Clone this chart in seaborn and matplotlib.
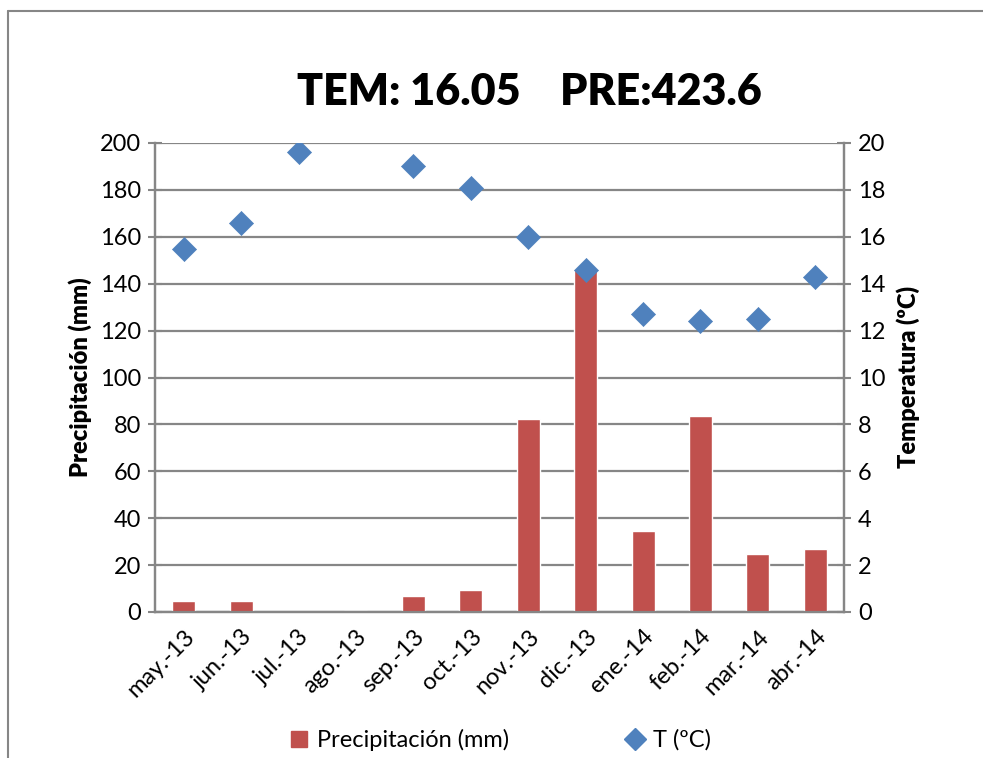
import numpy as np
import pandas as pd
import matplotlib
matplotlib.use("Agg")
import matplotlib.pyplot as plt
from matplotlib.lines import Line2D
from matplotlib.patches import Patch
import seaborn as sns

months = ["may.-13", "jun.-13", "jul.-13", "ago.-13", "sep.-13", "oct.-13",
          "nov.-13", "dic.-13", "ene.-14", "feb.-14", "mar.-14", "abr.-14"]
precip_mm = [4.5, 4.5, 0.0, 0.6, 6.8, 9.4, 82.2, 146.0, 34.5, 83.6, 24.8, 26.7]
temp_c = [15.5, 16.6, 19.6, np.nan, 19.0, 18.1, 16.0, 14.6, 12.7, 12.4, 12.5, 14.3]
title_text = "TEM: 16.05    PRE:423.6"

sns.set_theme(style="white")
plt.rcParams["font.family"] = ["Lato", "DejaVu Sans"]
plt.rcParams["text.color"] = "black"
plt.rcParams["axes.labelcolor"] = "black"
plt.rcParams["xtick.labelcolor"] = "black"
plt.rcParams["ytick.labelcolor"] = "black"

BAR_RED = "#C0504D"
DIAMOND_BLUE = "#4F81BD"
GRID_GREY = "#868686"
FS = 17

df = pd.DataFrame({"mes": months, "precip": precip_mm, "temp": temp_c})

fig = plt.figure(figsize=(9.83, 7.58), dpi=100)
ax = fig.add_axes([155 / 983, 1 - 612 / 758, (844 - 155) / 983, (612 - 143) / 758])

sns.barplot(data=df, x="mes", y="precip", color=BAR_RED, width=0.4,
            saturation=1, ax=ax, zorder=3)
ax.set_ylim(0, 200)
ax.set_xlim(-0.5, len(months) - 0.5)
ax.set_yticks(np.arange(0, 201, 20))
ax.yaxis.grid(True, color=GRID_GREY, linewidth=1.6, zorder=0)
ax.set_axisbelow(True)

ax2 = ax.twinx()
sns.scatterplot(data=df, x="mes", y="temp", marker="D", s=150,
                color=DIAMOND_BLUE, edgecolor=DIAMOND_BLUE, linewidth=0.5,
                ax=ax2, zorder=4, legend=False)
ax2.set_ylim(0, 20)
ax2.set_yticks(np.arange(0, 21, 2))
ax2.set_xlim(-0.5, len(months) - 0.5)

for a in (ax, ax2):
    for side in ("left", "right", "bottom", "top"):
        a.spines[side].set_color(GRID_GREY)
        a.spines[side].set_linewidth(1.6)
    a.spines["top"].set_visible(False)
    a.set_xlabel("")

# x ticks sit on the category boundaries, labels at the centres
ax.set_xticks(np.arange(len(months)))
ax.set_xticklabels(months, rotation=45, ha="right", rotation_mode="anchor",
                   fontsize=FS)
ax.set_xticks(np.arange(-0.5, len(months)), minor=True)
ax.tick_params(axis="x", which="major", length=0, pad=10)
ax.tick_params(axis="x", which="minor", length=7, width=1.5,
               color=GRID_GREY, direction="out")
ax.tick_params(axis="y", length=10, width=1.5, color=GRID_GREY,
               direction="inout", labelsize=FS, pad=5, left=True)
ax2.tick_params(axis="y", length=10, width=1.5, color=GRID_GREY,
                direction="inout", labelsize=FS, pad=5, right=True)

ax.set_ylabel("Precipitación (mm)", fontsize=FS, fontweight="heavy", labelpad=6)
ax2.set_ylabel("Temperatura (ºC)", fontsize=FS, fontweight="heavy", labelpad=8)

fig.text(529 / 983, 1 - 92 / 758, title_text, ha="center", va="center",
         fontsize=31, fontweight="heavy")

handles = [
    Patch(facecolor=BAR_RED, edgecolor=BAR_RED, label="Precipitación (mm)"),
    Line2D([], [], marker="D", linestyle="none", markersize=11,
           color=DIAMOND_BLUE, label="T (ºC)"),
]
fig.legend(handles=handles, loc="center", bbox_to_anchor=(501 / 983, 1 - 740 / 758),
           ncol=2, frameon=False, fontsize=FS, columnspacing=5.0,
           handlelength=0.7, handleheight=0.7, handletextpad=0.4)

# outer frame of the chart area
fig.add_artist(Line2D([8 / 983, 8 / 983], [0, 1 - 11 / 758], color=GRID_GREY,
                      linewidth=1.5, transform=fig.transFigure))
fig.add_artist(Line2D([8 / 983, 1], [1 - 11 / 758, 1 - 11 / 758], color=GRID_GREY,
                      linewidth=1.5, transform=fig.transFigure))

fig.savefig("out.png", dpi=100, facecolor="white")
